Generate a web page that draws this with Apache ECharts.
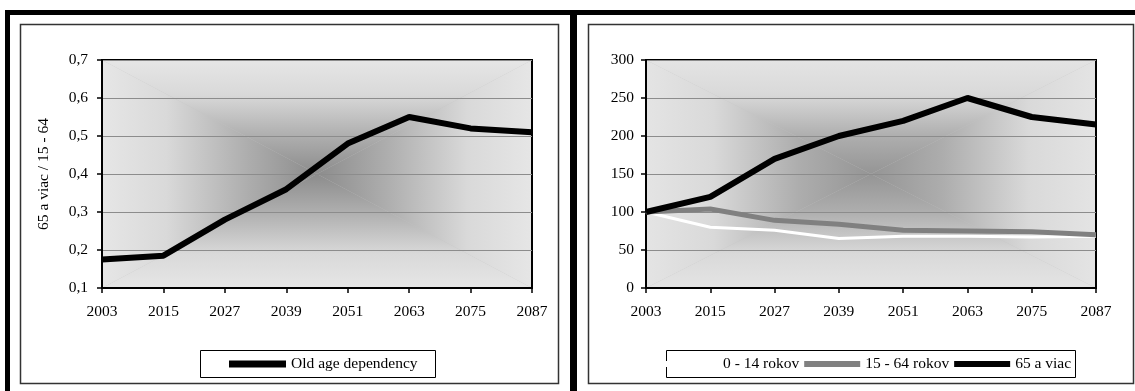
<!DOCTYPE html>
<html>
<head>
<meta charset="utf-8">
<script src="https://cdn.jsdelivr.net/npm/echarts@6/dist/echarts.min.js"></script>
<style>
  html, body { margin: 0; padding: 0; background: #fff; }
  #chart { width: 1135px; height: 391px; }
</style>
</head>
<body>
<div id="chart"></div>
<script>
// Projection years shared by both panels
const years = ['2003', '2015', '2027', '2039', '2051', '2063', '2075', '2087'];

// Left panel: old age dependency ratio (65+ / 15-64)
const oldAgeDependency = [0.175, 0.185, 0.28, 0.36, 0.48, 0.55, 0.52, 0.51];

// Right panel: population index by age group (2003 = 100)
const age0to14 = [100, 80, 76, 65, 68, 68, 67, 68];
const age15to64 = [100, 104, 89, 84, 76, 75, 74, 70];
const age65plus = [100, 120, 170, 200, 220, 250, 225, 215];

// Axis tick ranges
const ratioTicks = { min: 0.1, max: 0.7, step: 0.1 };
const indexTicks = { min: 0, max: 300, step: 50 };

// Legend names
const leftNames = ['Old age dependency'];
const rightNames = ['0 - 14 rokov', '15 - 64 rokov', '65 a viac'];
const ratioAxisName = '65 a viac / 15 - 64';

const FONT = "'Liberation Serif', 'DejaVu Serif', serif";

// Plot rectangles (pixels)
const leftPlot = { x: 102, y: 60, w: 430, h: 228 };
const rightPlot = { x: 646, y: 60, w: 450, h: 228 };

// Rectangular "from centre" shading: four triangles, each with a linear ramp
function shadedPlot(r, edge, centre) {
  const cx = r.x + r.w / 2, cy = r.y + r.h / 2;
  const x0 = r.x, x1 = r.x + r.w, y0 = r.y, y1 = r.y + r.h;
  const stops = [
    { offset: 0, color: edge },
    { offset: 0.3, color: '#d9d9d9' },
    { offset: 0.68, color: '#adadad' },
    { offset: 1, color: centre }
  ];
  const grad = (x, y, x2, y2) => ({ type: 'linear', x, y, x2, y2, colorStops: stops });
  const tri = (pts, fill) => ({
    type: 'polygon', z: -10, silent: true,
    shape: { points: pts },
    style: { fill, stroke: null }
  });
  return [
    { type: 'rect', z: -11, silent: true,
      shape: { x: x0, y: y0, width: r.w, height: r.h },
      style: { fill: '#c4c4c4' } },
    tri([[x0, y0], [x1, y0], [cx, cy]], grad(0, 0, 0, 1)),
    tri([[x0, y1], [x1, y1], [cx, cy]], grad(0, 1, 0, 0)),
    tri([[x0, y0], [x0, y1], [cx, cy]], grad(0, 0, 1, 0)),
    tri([[x1, y0], [x1, y1], [cx, cy]], grad(1, 0, 0, 0))
  ];
}

function box(x, y, w, h, stroke, lw) {
  return { type: 'rect', z: -12, silent: true,
    shape: { x, y, width: w, height: h },
    style: { fill: '#fff', stroke, lineWidth: lw } };
}
function bar(x, y, w, h) {
  return { type: 'rect', z: 5, silent: true,
    shape: { x, y, width: w, height: h }, style: { fill: '#000' } };
}

const labelStyle = { color: '#000', fontFamily: FONT, fontSize: 15.5 };

function xAxisFor(gridIndex) {
  return {
    type: 'category', gridIndex, data: years, boundaryGap: false,
    axisLine: { lineStyle: { color: '#000', width: 2 } },
    axisTick: { show: true, length: 5, lineStyle: { color: '#000', width: 1.5 } },
    axisLabel: Object.assign({ margin: 16 }, labelStyle),
    splitLine: { show: false }
  };
}

const chart = echarts.init(document.getElementById('chart'), null, { renderer: 'canvas' });

chart.setOption({
  animation: false,
  backgroundColor: '#fff',
  graphic: [
    // panel frames
    box(20.5, 24.5, 538, 359, '#333', 1.5),
    box(588.5, 24.5, 545, 359, '#333', 1.5),
    // legend boxes
    Object.assign(box(200.5, 350.5, 235, 27, '#000', 1), { z: -9 }),
    Object.assign(box(666.5, 350.5, 409, 27, '#000', 1), { z: -9 }),
    // heavy outer rules
    bar(5, 10, 1130, 5),
    bar(5, 10, 5, 381),
    bar(570, 10, 7, 381),
    ...shadedPlot(leftPlot, '#e6e6e6', '#8c8c8c'),
    ...shadedPlot(rightPlot, '#e4e4e4', '#959595')
  ],
  grid: [
    { left: leftPlot.x, top: leftPlot.y, width: leftPlot.w, height: leftPlot.h,
      show: true, backgroundColor: 'transparent', borderColor: '#000', borderWidth: 2 },
    { left: rightPlot.x, top: rightPlot.y, width: rightPlot.w, height: rightPlot.h,
      show: true, backgroundColor: 'transparent', borderColor: '#000', borderWidth: 2 }
  ],
  legend: [
    { data: leftNames, left: 229, top: 356, padding: 0, itemGap: 6,
      itemWidth: 57, itemHeight: 7, icon: 'rect', selectedMode: false,
      textStyle: labelStyle },
    { data: rightNames, left: 662, top: 356, padding: 0, itemGap: 5,
      itemWidth: 56, itemHeight: 6, icon: 'rect', selectedMode: false,
      textStyle: labelStyle }
  ],
  xAxis: [xAxisFor(0), xAxisFor(1)],
  yAxis: [
    {
      type: 'value', gridIndex: 0,
      min: ratioTicks.min, max: ratioTicks.max, interval: ratioTicks.step,
      name: ratioAxisName, nameLocation: 'middle', nameRotate: 90, nameGap: 50,
      nameTextStyle: labelStyle,
      axisLine: { show: true, lineStyle: { color: '#000', width: 2 } },
      axisTick: { show: true, length: 5, lineStyle: { color: '#000', width: 1.5 } },
      axisLabel: Object.assign({ margin: 14,
        formatter: v => v.toFixed(1).replace('.', ',') }, labelStyle),
      splitLine: { show: true, lineStyle: { color: '#8c8c8c', width: 1 } }
    },
    {
      type: 'value', gridIndex: 1,
      min: indexTicks.min, max: indexTicks.max, interval: indexTicks.step,
      axisLine: { show: true, lineStyle: { color: '#000', width: 2 } },
      axisTick: { show: true, length: 5, lineStyle: { color: '#000', width: 1.5 } },
      axisLabel: Object.assign({ margin: 12 }, labelStyle),
      splitLine: { show: true, lineStyle: { color: '#8c8c8c', width: 1 } }
    }
  ],
  series: [
    { name: leftNames[0], type: 'line', xAxisIndex: 0, yAxisIndex: 0,
      data: oldAgeDependency, symbol: 'none',
      itemStyle: { color: '#000' }, lineStyle: { color: '#000', width: 6 } },
    { name: rightNames[0], type: 'line', xAxisIndex: 1, yAxisIndex: 1,
      data: age0to14, symbol: 'none',
      itemStyle: { color: '#fff' }, lineStyle: { color: '#fff', width: 3 } },
    { name: rightNames[1], type: 'line', xAxisIndex: 1, yAxisIndex: 1,
      data: age15to64, symbol: 'none',
      itemStyle: { color: '#808080' }, lineStyle: { color: '#808080', width: 5 } },
    { name: rightNames[2], type: 'line', xAxisIndex: 1, yAxisIndex: 1,
      data: age65plus, symbol: 'none',
      itemStyle: { color: '#000' }, lineStyle: { color: '#000', width: 6 } }
  ]
});
</script>
</body>
</html>
